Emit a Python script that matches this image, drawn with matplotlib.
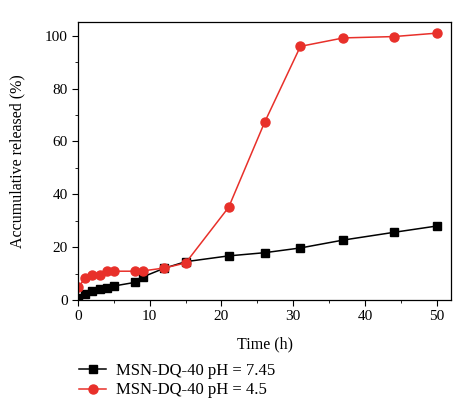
import numpy as np
import matplotlib.pyplot as plt
from matplotlib.ticker import MultipleLocator

plt.rcParams['font.family'] = ['Liberation Serif', 'DejaVu Serif']

# ---------- Data ----------
time_h = [0, 1, 2, 3, 4, 5, 8, 9, 12, 15, 21, 26, 31, 37, 44, 50]
release_745 = [0.9, 2.3, 3.5, 4.0, 4.7, 5.3, 6.7, 8.7, 12.0, 14.5, 16.7, 17.9, 19.7, 22.7, 25.6, 28.0]
release_45 = [4.8, 8.2, 9.3, 9.3, 10.9, 10.9, 10.9, 11.0, 12.1, 14.0, 35.1, 67.2, 96.0, 99.2, 99.7, 101.0]

fig = plt.figure(figsize=(4.74, 4.19), dpi=100)
ax = fig.add_axes([0.1646, 0.284, 0.787, 0.664])

ax.plot(time_h, release_745, '-s', color='black', ms=5.5, lw=1.1,
        label='MSN-DQ-40 pH = 7.45')
ax.plot(time_h, release_45, '-o', color='#e8302a', mfc='#e8302a', mec='#e8302a',
        ms=6.5, lw=1.1, label='MSN-DQ-40 pH = 4.5')

ax.set_xlim(0, 52)
ax.set_ylim(0, 105.3)
ax.xaxis.set_major_locator(MultipleLocator(10))
ax.xaxis.set_minor_locator(MultipleLocator(5))
ax.yaxis.set_major_locator(MultipleLocator(20))
ax.yaxis.set_minor_locator(MultipleLocator(10))
ax.tick_params(axis='both', which='major', direction='out', length=4, labelsize=11)
ax.tick_params(axis='both', which='minor', direction='out', length=2.5)
for s in ax.spines.values():
    s.set_linewidth(0.9)

ax.set_xlabel("Time (h)", fontsize=11.5, labelpad=9)
ax.set_ylabel("Accumulative released (%)", fontsize=11.5, labelpad=14)

ax.legend(loc='upper left', bbox_to_anchor=(-0.028, -0.185), frameon=False,
          fontsize=12, handlelength=1.6, handletextpad=0.6,
          labelspacing=0.2, borderpad=0.2)

fig.savefig("out.png", dpi=100)
